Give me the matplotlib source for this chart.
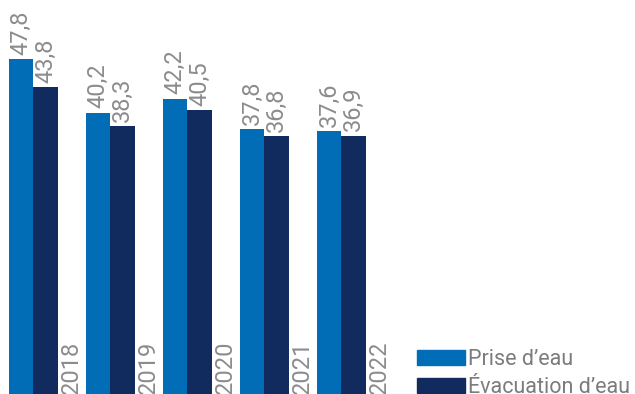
import numpy as np
import matplotlib.pyplot as plt
from matplotlib.patches import Patch

plt.rcParams['font.family'] = ['Roboto', 'DejaVu Sans']

years = ['2018', '2019', '2020', '2021', '2022']
prise = [47.8, 40.2, 42.2, 37.8, 37.6]
evacuation = [43.8, 38.3, 40.5, 36.8, 36.9]
labels = ["Prise d\u2019eau", "\u00c9vacuation d\u2019eau"]

BLUE = '#006db6'
NAVY = '#112b5f'
GREY = '#8a8c8e'

fig = plt.figure(figsize=(6.35, 3.94), dpi=100)
ax = fig.add_axes([0, 0, 1, 1])

x = np.arange(len(years))
w = 0.318
ax.bar(x, prise, width=w, align='edge', color=BLUE)
ax.bar(x + w, evacuation, width=w, align='edge', color=NAVY)

for i in range(len(years)):
    ax.text(x[i] + w / 2, prise[i] + 0.6, f"{prise[i]:.1f}".replace('.', ','),
            rotation=90, ha='center', va='bottom', fontsize=17, color=GREY)
    ax.text(x[i] + 1.5 * w, evacuation[i] + 0.6, f"{evacuation[i]:.1f}".replace('.', ','),
            rotation=90, ha='center', va='bottom', fontsize=17, color=GREY)
    ax.text(x[i] + 0.805, 0.0, years[i], rotation=90, ha='center', va='bottom',
            fontsize=17, color=GREY)

ax.set_xlim(-9 / 77, 626 / 77)
ax.set_ylim(0, 394 / 7)
ax.axis('off')

handles = [Patch(color=BLUE), Patch(color=NAVY)]
leg = fig.legend(handles, labels, loc='upper left', bbox_to_anchor=(417 / 635, 1 - 349 / 394),
                 frameon=False, fontsize=15.5, handlelength=2.23, handleheight=0.65,
                 handletextpad=0.15, labelspacing=0.33, borderpad=0, borderaxespad=0)
for t in leg.get_texts():
    t.set_color('#7a7c7e')

fig.savefig('out.png', dpi=100)
